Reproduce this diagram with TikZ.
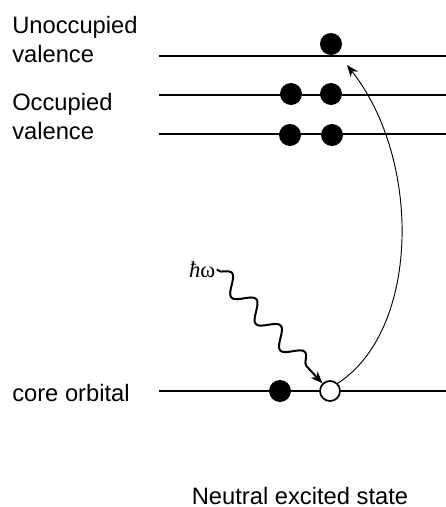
\documentclass[tikz,border=0pt]{standalone}
\usepackage{fontspec}
\setmainfont{Liberation Sans}
\newfontfamily\serifsym{Liberation Serif}
\usetikzlibrary{arrows.meta,decorations.pathmorphing}

\begin{document}
\begin{tikzpicture}[
  x=0.75pt,y=-0.75pt,
  font=\fontsize{17.8}{21.5}\selectfont,
  level/.style={line width=1.6pt},
  label/.style={anchor=north west,align=left,inner sep=0pt},
  elec/.style={circle,fill=black,minimum size=16.5pt,inner sep=0pt},
  hole/.style={circle,draw=black,fill=white,line width=1.3pt,minimum size=15pt,inner sep=0pt},
  excite/.style={-{Stealth[length=9pt,width=7pt]},line width=0.7pt},
  photon/.style={-{Stealth[length=9pt,width=7pt]},line width=1.5pt,
    decorate,decoration={snake,segment length=27pt,amplitude=6.5pt,pre length=1pt,post length=8pt}}
]
\useasboundingbox (0,0) rectangle (446,507);

% levels
\draw[level] (159,56) -- (446,56);
\draw[level] (159,95) -- (446,95);
\draw[level] (159,134) -- (446,134);
\draw[level] (159,391) -- (446,391);

% electrons
\node[elec] (u1) at (331,44) {};
\node[elec] (o1) at (291,94) {};
\node[elec] (o2) at (331,94) {};
\node[elec] (v1) at (290,135) {};
\node[elec] (v2) at (332,135) {};
\node[elec] (c1) at (280,391) {};
\node[hole] (h1) at (330,391) {};

% labels
\node[label] (unocc) at (12,16) {Unoccupied\\valence};
\node[label] (occ) at (12,93) {Occupied\\valence};
\node[anchor=west,inner sep=0pt] (core) at (12,393) {core orbital};
\node[font=\fontsize{17}{20}\selectfont\serifsym,anchor=base east,inner sep=1pt] (hw) at (217,277) {{\itshape ħ}ω};
\node[anchor=base] (state) at (300,504) {Neutral excited state};

% transitions
\coordinate (top) at (347,65);
\draw[excite] (h1.north east) .. controls (420,330) and (422,160) .. (top);
\draw[photon] (hw.east) -- (h1.north west);
\end{tikzpicture}
\end{document}
